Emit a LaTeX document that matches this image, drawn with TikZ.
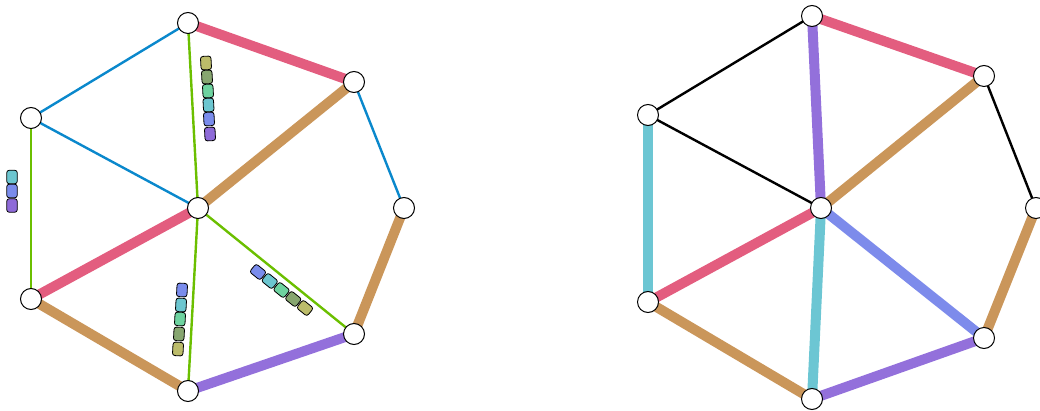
\documentclass[tikz,border=0pt]{standalone}
\begin{document}
\begin{tikzpicture}[x=1pt,y=-1pt,
  vtx/.style={circle,draw=black,fill=white,line width=1pt,minimum size=21pt,inner sep=0pt},
  thick edge/.style={line width=10pt},
  thin edge/.style={line width=2.4pt},
  chip/.style={draw=black,line width=0.8pt,rounded corners=2.5pt,minimum width=10.5pt,minimum height=13.5pt,inner sep=0pt}]
\definecolor{cpink}{HTML}{E35D7F}
\definecolor{ctan}{HTML}{CA965A}
\definecolor{cpurple}{HTML}{9370DB}
\definecolor{cblue}{HTML}{7D8BEB}
\definecolor{ccyan}{HTML}{6CC6D3}
\definecolor{cgreen}{HTML}{6BBF00}
\definecolor{cthinblue}{HTML}{0A88CC}
\definecolor{bolive}{HTML}{BCBC6A}
\definecolor{bsage}{HTML}{87A670}
\definecolor{bmint}{HTML}{6ED3A0}
\definecolor{bcyan}{HTML}{6CC6D0}
\definecolor{bblue}{HTML}{7A8CEC}
\definecolor{bpurple}{HTML}{8E6AD8}
\useasboundingbox (0,0) rectangle (1040,411);
% left graph nodes
\coordinate (A) at (188,23);
\coordinate (B) at (354,82);
\coordinate (C) at (404,208);
\coordinate (D) at (354,334);
\coordinate (E) at (188,391);
\coordinate (F) at (31,299);
\coordinate (G) at (31,118);
\coordinate (H) at (198,208);
% left edges
\draw[thin edge,cthinblue] (G) -- (A);
\draw[thin edge,cthinblue] (G) -- (H);
\draw[thin edge,cthinblue] (B) -- (C);
\draw[thin edge,cgreen] (F) -- (G);
\draw[thin edge,cgreen] (A) -- (H);
\draw[thin edge,cgreen] (H) -- (E);
\draw[thin edge,cgreen] (H) -- (D);
\draw[thick edge,cpink] (A) -- (B);
\draw[thick edge,ctan] (B) -- (H);
\draw[thick edge,ctan] (C) -- (D);
\draw[thick edge,cpurple] (D) -- (E);
\draw[thick edge,ctan] (E) -- (F);
\draw[thick edge,cpink] (F) -- (H);
% chips
\node[chip,fill=bolive,rotate=3] (t1) at (206,63) {};
\node[chip,fill=bsage,rotate=3] (t2) at (207,77) {};
\node[chip,fill=bmint,rotate=3] (t3) at (208,91) {};
\node[chip,fill=bcyan,rotate=3] (t4) at (208.5,105) {};
\node[chip,fill=bblue,rotate=3] (t5) at (209,119) {};
\node[chip,fill=bpurple,rotate=3] (t6) at (210,134) {};
\node[chip,fill=bcyan] (l1) at (12,177) {};
\node[chip,fill=bblue] (l2) at (12,191) {};
\node[chip,fill=bpurple] (l3) at (12,205.5) {};
\node[chip,fill=bblue,rotate=-3] (b1) at (182,290) {};
\node[chip,fill=bcyan,rotate=-3] (b2) at (181,305) {};
\node[chip,fill=bmint,rotate=-3] (b3) at (180,319) {};
\node[chip,fill=bsage,rotate=-3] (b4) at (179,334) {};
\node[chip,fill=bolive,rotate=-3] (b5) at (178,349) {};
\node[chip,fill=bblue,rotate=51] (d1) at (258,272) {};
\node[chip,fill=bcyan,rotate=51] (d2) at (269.75,281) {};
\node[chip,fill=bmint,rotate=51] (d3) at (281.5,290) {};
\node[chip,fill=bsage,rotate=51] (d4) at (293.25,299) {};
\node[chip,fill=bolive,rotate=51] (d5) at (305,308) {};
\foreach \n in {A,B,C,D,E,F,G,H} \node[vtx] (v\n) at (\n) {};
% right graph nodes
\coordinate (A2) at (812,16);
\coordinate (B2) at (984,76);
\coordinate (C2) at (1036,208);
\coordinate (D2) at (984,338);
\coordinate (E2) at (812,399);
\coordinate (F2) at (648,302);
\coordinate (G2) at (648,115);
\coordinate (H2) at (821,208);
\draw[thin edge,black] (A2) -- (G2);
\draw[thin edge,black] (G2) -- (H2);
\draw[thin edge,black] (B2) -- (C2);
\draw[thick edge,cpink] (A2) -- (B2);
\draw[thick edge,cpurple] (A2) -- (H2);
\draw[thick edge,ccyan] (G2) -- (F2);
\draw[thick edge,ctan] (B2) -- (H2);
\draw[thick edge,ctan] (C2) -- (D2);
\draw[thick edge,cpurple] (D2) -- (E2);
\draw[thick edge,cblue] (D2) -- (H2);
\draw[thick edge,ccyan] (E2) -- (H2);
\draw[thick edge,ctan] (E2) -- (F2);
\draw[thick edge,cpink] (F2) -- (H2);
\foreach \n in {A2,B2,C2,D2,E2,F2,G2,H2} \node[vtx] (v\n) at (\n) {};
\end{tikzpicture}
\end{document}
